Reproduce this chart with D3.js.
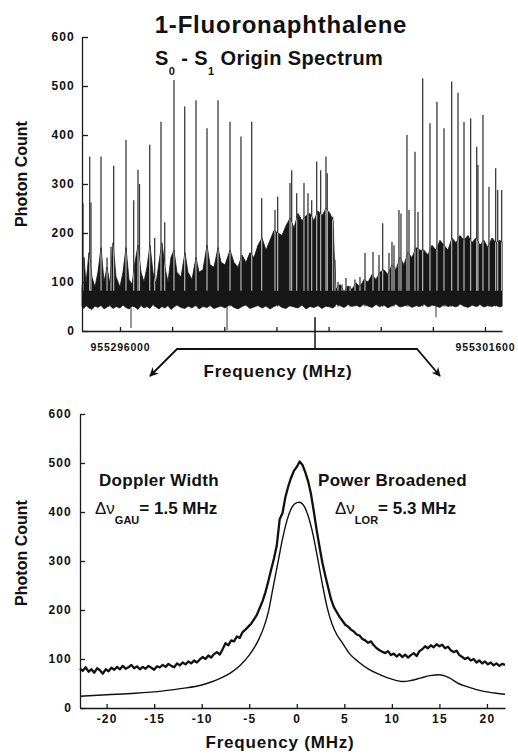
<!DOCTYPE html>
<html>
<head>
<meta charset="utf-8">
<script src="https://cdn.jsdelivr.net/npm/d3@7"></script>
<style>
  body { margin: 0; background: #fff; }
  text { font-family: "Liberation Sans", Arial, sans-serif; font-weight: bold; fill: #111; }
  .tick text { font-size: 12px; letter-spacing: 1.2px; }
  .domain, .tick line { stroke: #1a1a1a; stroke-width: 1.3; }
</style>
</head>
<body>
<div id="chart"></div>
<script>
// ---- top panel: S0-S1 origin spectrum (frequency as MHz offset from topBase) ----
var topBase = 955296000;
var topTicks = [0, 800, 1600, 2400, 3200, 4000, 4800, 5600];
var topTickLabels = ['955296000', '', '', '', '', '', '', '955301600'];
var countTicks = [0, 100, 200, 300, 400, 500, 600];

// individual rotational lines
var lineOff = [-568,-465,-445,-291,-199,-138,-97,92,210,276,299,456,532,629,686,
  828,993,1166,1335,1504,1688,1856,2021,2174,2378,2419,2608,2634,2711,2823,2884,
  2941,3018,3079,3160,3180,3263,3299,3345,3406,3467,3529,3605,3682,
  3759,3882,3974,4030,4127,4173,4204,4280,4311,4403,4434,4526,4572,4644,4756,4863,4971,
  5089,5186,5278,5380,5473,5492,5569,5661,5764,5795,5856];
var lineCount = [260,356,262,356,150,172,337,390,267,329,300,380,190,427,222,
  512,458,471,414,471,427,397,427,271,247,274,302,328,281,302,281,
  267,346,328,356,322,233,145,100,95,108,92,105,110,
  159,161,155,220,159,182,175,247,240,400,247,366,243,516,424,468,414,
  509,486,427,434,376,339,441,294,332,288,288];

// dense unresolved background (top and bottom edge of the dark mass)
var massOff = [-583,-552,-522,-476,-430,-384,-338,-291,-245,-199,-153,-107,-61,0,
  46,92,138,184,230,276,322,368,414,460,
  506,552,598,644,690,736,782,828,874,936,
  997,1043,1105,1166,1212,1273,1335,1381,1442,1504,
  1550,1611,1688,1749,1810,1872,1933,1994,2056,2117,
  2179,2240,2301,2363,2424,2485,2547,2608,2670,2731,
  2792,2854,2915,2976,3038,3099,3160,3222,3268,3291,
  3314,3375,3437,3498,3559,3621,3682,3743,3805,3866,
  3928,3989,4050,4112,4173,4234,4296,4357,4418,4480,
  4541,4603,4664,4725,4787,4848,4909,4971,5032,5094,
  5155,5216,5278,5339,5400,5462,5523,5584,5646,5707,
  5768,5830,5861];
var massTop = [85,150,95,160,110,90,120,170,100,130,95,180,110,90,
  120,170,105,95,140,175,120,100,130,175,
  120,95,140,180,130,100,150,165,120,110,
  160,120,105,150,120,125,175,135,130,170,
  140,135,165,140,130,155,140,160,150,175,
  190,165,185,205,200,195,215,230,210,240,
  225,235,240,225,245,235,250,240,225,140,
  85,95,80,92,85,98,90,105,100,115,
  105,120,125,115,135,125,150,135,160,150,
  170,165,165,155,175,165,185,175,165,190,
  180,195,185,195,180,190,175,185,170,190,
  180,185,180];
var massLow = [50,46,52,47,44,51,48,53,45,49,52,46,50,47,
  53,48,45,51,49,44,52,47,50,46,
  54,49,45,50,47,52,44,49,53,48,
  46,51,47,53,45,50,48,52,46,49,
  51,47,54,48,45,50,53,46,49,52,
  47,51,45,50,54,48,46,52,49,47,
  53,45,50,48,52,46,51,49,47,50,
  55,52,48,54,50,53,49,55,51,48,
  54,50,53,47,52,55,49,51,54,48,
  52,50,55,49,53,51,48,54,50,52,
  49,55,51,48,53,50,54,49,52,50,
  53,49,51];

// downward glitches below the baseline
var dipOff = [169, 1642, 4848];
var dipCount = [6, 2, 28];

// line expanded in the lower panel
var zoomOff = 2992;

// ---- bottom panel: single line profile ----
var bottomTicks = [-20, -15, -10, -5, 0, 5, 10, 15, 20];
var measFreq = [-22.8,-22.5,-22.2,-21.9,-21.6,-21.3,-21.0,-20.7,-20.4,-20.1,
  -19.8,-19.5,-19.2,-18.9,-18.6,-18.3,-18.0,-17.7,-17.4,-17.1,
  -16.8,-16.5,-16.2,-15.9,-15.6,-15.3,-15.0,-14.7,-14.4,-14.1,
  -13.8,-13.5,-13.2,-12.9,-12.6,-12.3,-12.0,-11.7,-11.4,-11.1,
  -10.8,-10.5,-10.2,-9.9,-9.6,-9.3,-9.0,-8.7,-8.4,-8.1,
  -7.8,-7.5,-7.2,-6.9,-6.6,-6.3,-6.0,-5.7,-5.4,-5.1,
  -4.8,-4.5,-4.2,-3.9,-3.6,-3.3,-3.0,-2.7,-2.4,-2.1,
  -1.8,-1.5,-1.2,-0.9,-0.6,-0.3,0.0,0.3,0.6,0.9,
  1.2,1.5,1.8,2.1,2.4,2.7,3.0,3.3,3.6,3.9,
  4.2,4.5,4.8,5.1,5.4,5.7,6.0,6.3,6.6,6.9,
  7.2,7.5,7.8,8.1,8.4,8.7,9.0,9.3,9.6,9.9,
  10.2,10.5,10.8,11.1,11.4,11.7,12.0,12.3,12.6,12.9,
  13.2,13.5,13.8,14.1,14.4,14.7,15.0,15.3,15.6,15.9,
  16.2,16.5,16.8,17.1,17.4,17.7,18.0,18.3,18.6,18.9,
  19.2,19.5,19.8,20.1,20.4,20.7,21.0,21.3,21.6,21.9];
var measCount = [80,76,83,74,79,72,81,77,70,79,
  75,82,78,84,79,86,80,83,88,81,
  85,79,84,80,86,82,78,85,83,88,
  84,90,86,83,91,87,93,89,95,91,
  97,93,99,104,100,107,103,110,114,109,
  120,132,128,138,136,146,143,155,160,166,
  172,181,190,204,218,236,258,282,305,332,
  385,398,430,452,470,484,492,503,496,481,
  462,436,400,362,328,296,270,246,222,206,
  196,186,178,170,166,160,156,150,148,141,
  138,133,136,128,122,118,115,112,116,108,
  111,105,110,104,109,103,108,112,106,116,
  120,126,122,128,124,130,126,129,122,125,
  118,114,117,108,104,100,103,97,100,93,
  97,91,95,89,93,87,91,86,90,88];
var fitFreq = [-22.8,-20,-17,-14,-12,-10,-9,-8,-7,-6,
  -5,-4.5,-4,-3.5,-3,-2.5,-2,-1.5,-1,-0.5,
  0,0.3,0.7,1.2,1.7,2.2,2.7,3.2,3.7,4.2,
  4.8,5.5,6.5,7.5,8.5,9.5,10.5,11.2,12,13,
  14,15,16,17,18,19,20,21,21.9];
var fitCount = [24,27,30,35,40,47,53,61,71,86,
  108,122,140,163,195,245,295,345,385,410,
  419,420,414,392,355,305,252,205,172,150,
  133,112,94,80,70,62,56,54,56,61,
  66,68,62,50,43,37,33,30,28];

var svg = d3.select('#chart').append('svg')
    .attr('width', 518)
    .attr('height', 756);

// ================= top panel =================
var x = d3.scaleLinear().domain([-583, 5861]).range([82, 502]);
var y = d3.scaleLinear().domain([0, 600]).range([331, 37]);

// spikes
svg.append('g').selectAll('line')
    .data(lineOff)
    .enter().append('line')
    .attr('x1', function (d) { return x(d); })
    .attr('x2', function (d) { return x(d); })
    .attr('y1', y(50))
    .attr('y2', function (d, i) { return y(lineCount[i]); })
    .attr('stroke', '#3a3a3a')
    .attr('stroke-width', 1.3);

// dark mass
var idx = d3.range(massOff.length);
var massArea = d3.area()
    .x(function (i) { return x(massOff[i]); })
    .y0(function (i) { return y(massLow[i]); })
    .y1(function (i) { return y(massTop[i]); });
svg.append('path')
    .attr('d', massArea(idx))
    .attr('fill', '#171717')
    .attr('stroke', '#171717')
    .attr('stroke-width', 0.8);

// light gaps where lines cross the mass
svg.append('clipPath').attr('id', 'massClip')
    .append('path').attr('d', massArea(idx));
svg.append('g').attr('clip-path', 'url(#massClip)')
    .selectAll('line')
    .data(lineOff)
    .enter().append('line')
    .attr('x1', function (d) { return x(d); })
    .attr('x2', function (d) { return x(d); })
    .attr('y1', y(82))
    .attr('y2', function (d, i) { return y(lineCount[i]); })
    .attr('stroke', '#c4c4c4')
    .attr('stroke-width', 1.1);

// dips
svg.append('g').selectAll('line')
    .data(dipOff)
    .enter().append('line')
    .attr('x1', function (d) { return x(d); })
    .attr('x2', function (d) { return x(d); })
    .attr('y1', y(50))
    .attr('y2', function (d, i) { return y(dipCount[i]); })
    .attr('stroke', '#333')
    .attr('stroke-width', 1);

// axes
svg.append('g')
    .attr('transform', 'translate(82,0)')
    .call(d3.axisLeft(y).tickValues(countTicks).tickSizeInner(-6).tickSizeOuter(0).tickPadding(7));
var topX = svg.append('g')
    .attr('transform', 'translate(0,331)')
    .call(d3.axisBottom(x).tickValues(topTicks).tickSizeInner(-4).tickSizeOuter(0).tickPadding(13)
        .tickFormat(function (d, i) { return topTickLabels[i]; }));
topX.selectAll('.tick text').style('font-size', '10.5px').style('letter-spacing', '0.8px');

// titles
svg.append('text')
    .attr('x', 281).attr('y', 33)
    .attr('text-anchor', 'middle')
    .style('font-size', '24px').style('letter-spacing', '0.8px')
    .text('1-Fluoronaphthalene');
var sub = svg.append('text')
    .attr('x', 155).attr('y', 65)
    .style('font-size', '20px').style('letter-spacing', '0.4px');
sub.append('tspan').text('S');
sub.append('tspan').attr('dy', 10).style('font-size', '11px').text('0');
sub.append('tspan').attr('dy', -10).text(' - S');
sub.append('tspan').attr('dy', 10).style('font-size', '11px').text('1');
sub.append('tspan').attr('dy', -10).text(' Origin Spectrum');

svg.append('text')
    .attr('x', 278).attr('y', 377)
    .attr('text-anchor', 'middle')
    .style('font-size', '17px').style('letter-spacing', '0.8px')
    .text('Frequency (MHz)');

function yTitle(cy) {
    svg.append('text')
        .attr('transform', 'translate(27,' + cy + ') rotate(-90)')
        .attr('text-anchor', 'middle')
        .style('font-size', '16px')
        .text('Photon Count');
}
yTitle(174);

// bracket and arrows to the zoomed line
var defs = svg.append('defs');
defs.append('marker')
    .attr('id', 'arrow')
    .attr('viewBox', '0 0 10 10')
    .attr('refX', 9).attr('refY', 5)
    .attr('markerWidth', 9).attr('markerHeight', 9)
    .attr('markerUnits', 'userSpaceOnUse')
    .attr('orient', 'auto')
    .append('path').attr('d', 'M0,0 L10,5 L0,10 L3,5 z').attr('fill', '#111');
defs.append('marker')
    .attr('id', 'arrowStart')
    .attr('viewBox', '0 0 10 10')
    .attr('refX', 1).attr('refY', 5)
    .attr('markerWidth', 9).attr('markerHeight', 9)
    .attr('markerUnits', 'userSpaceOnUse')
    .attr('orient', 'auto')
    .append('path').attr('d', 'M10,0 L0,5 L10,10 L7,5 z').attr('fill', '#111');
var zx = x(zoomOff);
svg.append('path')
    .attr('d', 'M' + zx + ',' + y(28) + ' L' + zx + ',349')
    .attr('stroke', '#111').attr('stroke-width', 1.5).attr('fill', 'none');
svg.append('path')
    .attr('d', 'M150,376 L177,349 L417,349 L440,376')
    .attr('stroke', '#111').attr('stroke-width', 1.8).attr('fill', 'none')
    .attr('marker-start', 'url(#arrowStart)')
    .attr('marker-end', 'url(#arrow)');

// ================= bottom panel =================
var bx = d3.scaleLinear().domain([-22.8, 21.9]).range([80, 505]);
var by = d3.scaleLinear().domain([0, 600]).range([708, 414]);

var fitLine = d3.line()
    .x(function (d, i) { return bx(fitFreq[i]); })
    .y(function (d) { return by(d); })
    .curve(d3.curveMonotoneX);
svg.append('path')
    .attr('d', fitLine(fitCount))
    .attr('fill', 'none').attr('stroke', '#111').attr('stroke-width', 1.4);

var measLine = d3.line()
    .x(function (d, i) { return bx(measFreq[i]); })
    .y(function (d) { return by(d); });
svg.append('path')
    .attr('d', measLine(measCount))
    .attr('fill', 'none').attr('stroke', '#111').attr('stroke-width', 2.3)
    .attr('stroke-linejoin', 'round');

svg.append('g')
    .attr('transform', 'translate(80,0)')
    .call(d3.axisLeft(by).tickValues(countTicks).tickSizeInner(-5).tickSizeOuter(0).tickPadding(8));
// plain hyphen for negative labels, as in the original figure
svg.append('g')
    .attr('transform', 'translate(0,708)')
    .call(d3.axisBottom(bx).tickValues(bottomTicks).tickSizeInner(-4).tickSizeOuter(0).tickPadding(6)
        .tickFormat(function (d) { return String(d); }));

svg.append('text')
    .attr('x', 280).attr('y', 748)
    .attr('text-anchor', 'middle')
    .style('font-size', '17px').style('letter-spacing', '0.8px')
    .text('Frequency (MHz)');
yTitle(553);

// annotations
function label(x0, title) {
    svg.append('text').attr('x', x0).attr('y', 486)
        .style('font-size', '17px').style('letter-spacing', '0.3px')
        .text(title);
}
label(99, 'Doppler Width');
label(318, 'Power Broadened');
function width(x0, subTxt, val) {
    var t = svg.append('text').attr('x', x0).attr('y', 514).style('font-size', '17px');
    t.append('tspan').style('font-weight', 'normal').text('\u0394\u03bd');
    t.append('tspan').attr('dy', 10).style('font-size', '11px').text(subTxt);
    t.append('tspan').attr('dy', -10).text(val);
}
width(95, 'GAU', '= 1.5 MHz');
width(335, 'LOR', '= 5.3 MHz');
</script>
</body>
</html>
